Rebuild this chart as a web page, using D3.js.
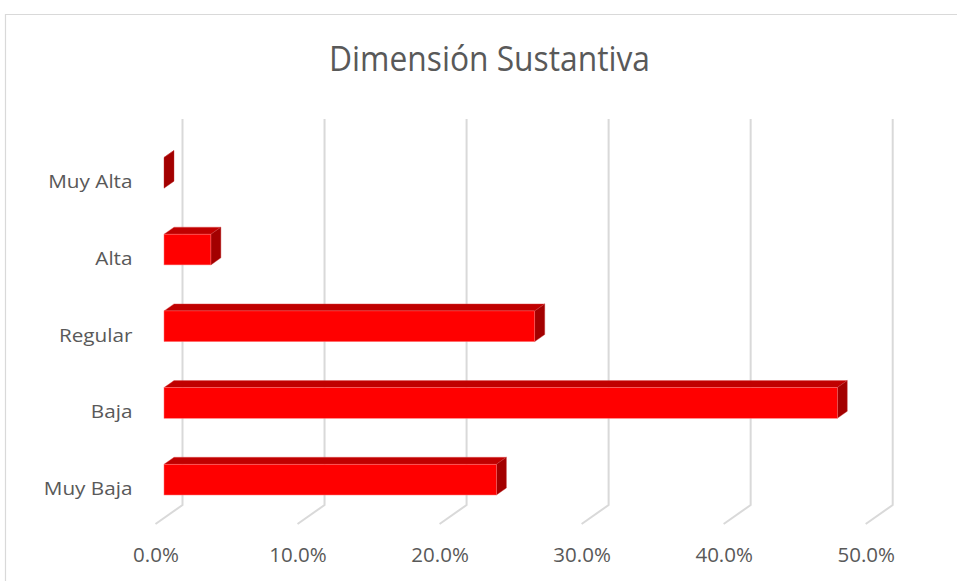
<!DOCTYPE html>
<html>
<head>
<meta charset="utf-8">
<script src="https://cdn.jsdelivr.net/npm/d3@7"></script>
<style>
  html, body { margin: 0; padding: 0; background: #fff; }
  svg { display: block; }
  text { font-family: "Open Sans", "Noto Sans", sans-serif; fill: #595959; }
</style>
</head>
<body>
<svg id="chart" width="957" height="581"></svg>
<script>
// ---- data ----
const title = "Dimensión Sustantiva";
const categories = ["Muy Alta", "Alta", "Regular", "Baja", "Muy Baja"]; // top to bottom
const values = [0.0, 3.3, 26.1, 47.4, 23.4]; // percent
const tickValues = [0, 10, 20, 30, 40, 50];
const tickLabels = ["0.0%", "10.0%", "20.0%", "30.0%", "40.0%", "50.0%"];

// ---- layout ----
const svg = d3.select("#chart");
const W = 957, H = 581;

// chart border
svg.append("path")
  .attr("d", `M5.5,${H} V14.5 H${W}`)
  .attr("fill", "none").attr("stroke", "#D9D9D9").attr("stroke-width", 1.2);

// back-wall x scale
const x = d3.scaleLinear().domain([0, 50]).range([182.5, 892.7]);
// depth vector (back wall -> front floor edge)
const depthDX = -27, depthDY = 19;
const fBack = 0.315, fFront = 0.685; // bar depth fractions

const y = d3.scaleBand().domain(categories)
  .range([134.5, 518]).paddingInner(0.6).paddingOuter(0.3);

const gridTop = 119, gridBottom = 505;

// gridlines
const grid = svg.append("g");
grid.selectAll("path").data(tickValues).join("path")
  .attr("d", d => `M${x(d)},${gridTop} V${gridBottom} l${depthDX},${depthDY}`)
  .attr("fill", "none").attr("stroke", "#D9D9D9").attr("stroke-width", 2);

// tick labels
svg.append("g").selectAll("text").data(tickValues).join("text")
  .attr("x", d => x(d) + depthDX + 0.5)
  .attr("y", 561.7)
  .attr("text-anchor", "middle")
  .attr("font-size", 20.5)
  .text((d, i) => tickLabels[i]);

// bars
const fdx = depthDX * fFront, fdy = depthDY * fFront;
const bdx = depthDX * fBack, bdy = depthDY * fBack;
const ddx = bdx - fdx, ddy = bdy - fdy; // front -> back offset

const data = categories.map((c, i) => ({ c, v: values[i] }));
const bars = svg.append("g").selectAll("g").data(data).join("g");

bars.each(function (d) {
  const g = d3.select(this);
  const x0 = x(0) + fdx, x1 = x(d.v) + fdx;
  const yt = y(d.c), yb = y(d.c) + y.bandwidth();
  // top face
  g.append("path")
    .attr("d", `M${x0},${yt} L${x0 + ddx},${yt + ddy} L${x1 + ddx},${yt + ddy} L${x1},${yt} Z`)
    .attr("fill", "#C00000").attr("stroke", "#E05050").attr("stroke-width", 0.4);
  // side face
  g.append("path")
    .attr("d", `M${x1},${yt} L${x1 + ddx},${yt + ddy} L${x1 + ddx},${yb + ddy} L${x1},${yb} Z`)
    .attr("fill", "#A30000").attr("stroke", "#C03030").attr("stroke-width", 0.4);
  // front face
  if (d.v > 0) {
    g.append("rect")
      .attr("x", x0).attr("y", yt)
      .attr("width", x1 - x0).attr("height", yb - yt)
      .attr("fill", "#FF0000").attr("stroke", "#FF7070").attr("stroke-width", 0.5);
  }
});

// category labels
const catStretch = 1.15;
svg.append("g").selectAll("text").data(categories).join("text")
  .attr("x", 132.5)
  .attr("y", d => y(d) + y.bandwidth())
  .attr("text-anchor", "end")
  .attr("font-size", 18)
  .text(d => d)
  .each(function () {
    const len = this.getComputedTextLength();
    d3.select(this).attr("textLength", len * catStretch).attr("lengthAdjust", "spacingAndGlyphs");
  });

// title
svg.append("text")
  .attr("x", 489.5).attr("y", 70.7)
  .attr("text-anchor", "middle")
  .attr("font-size", 34)
  .attr("textLength", 321).attr("lengthAdjust", "spacingAndGlyphs")
  .text(title);
</script>
</body>
</html>
